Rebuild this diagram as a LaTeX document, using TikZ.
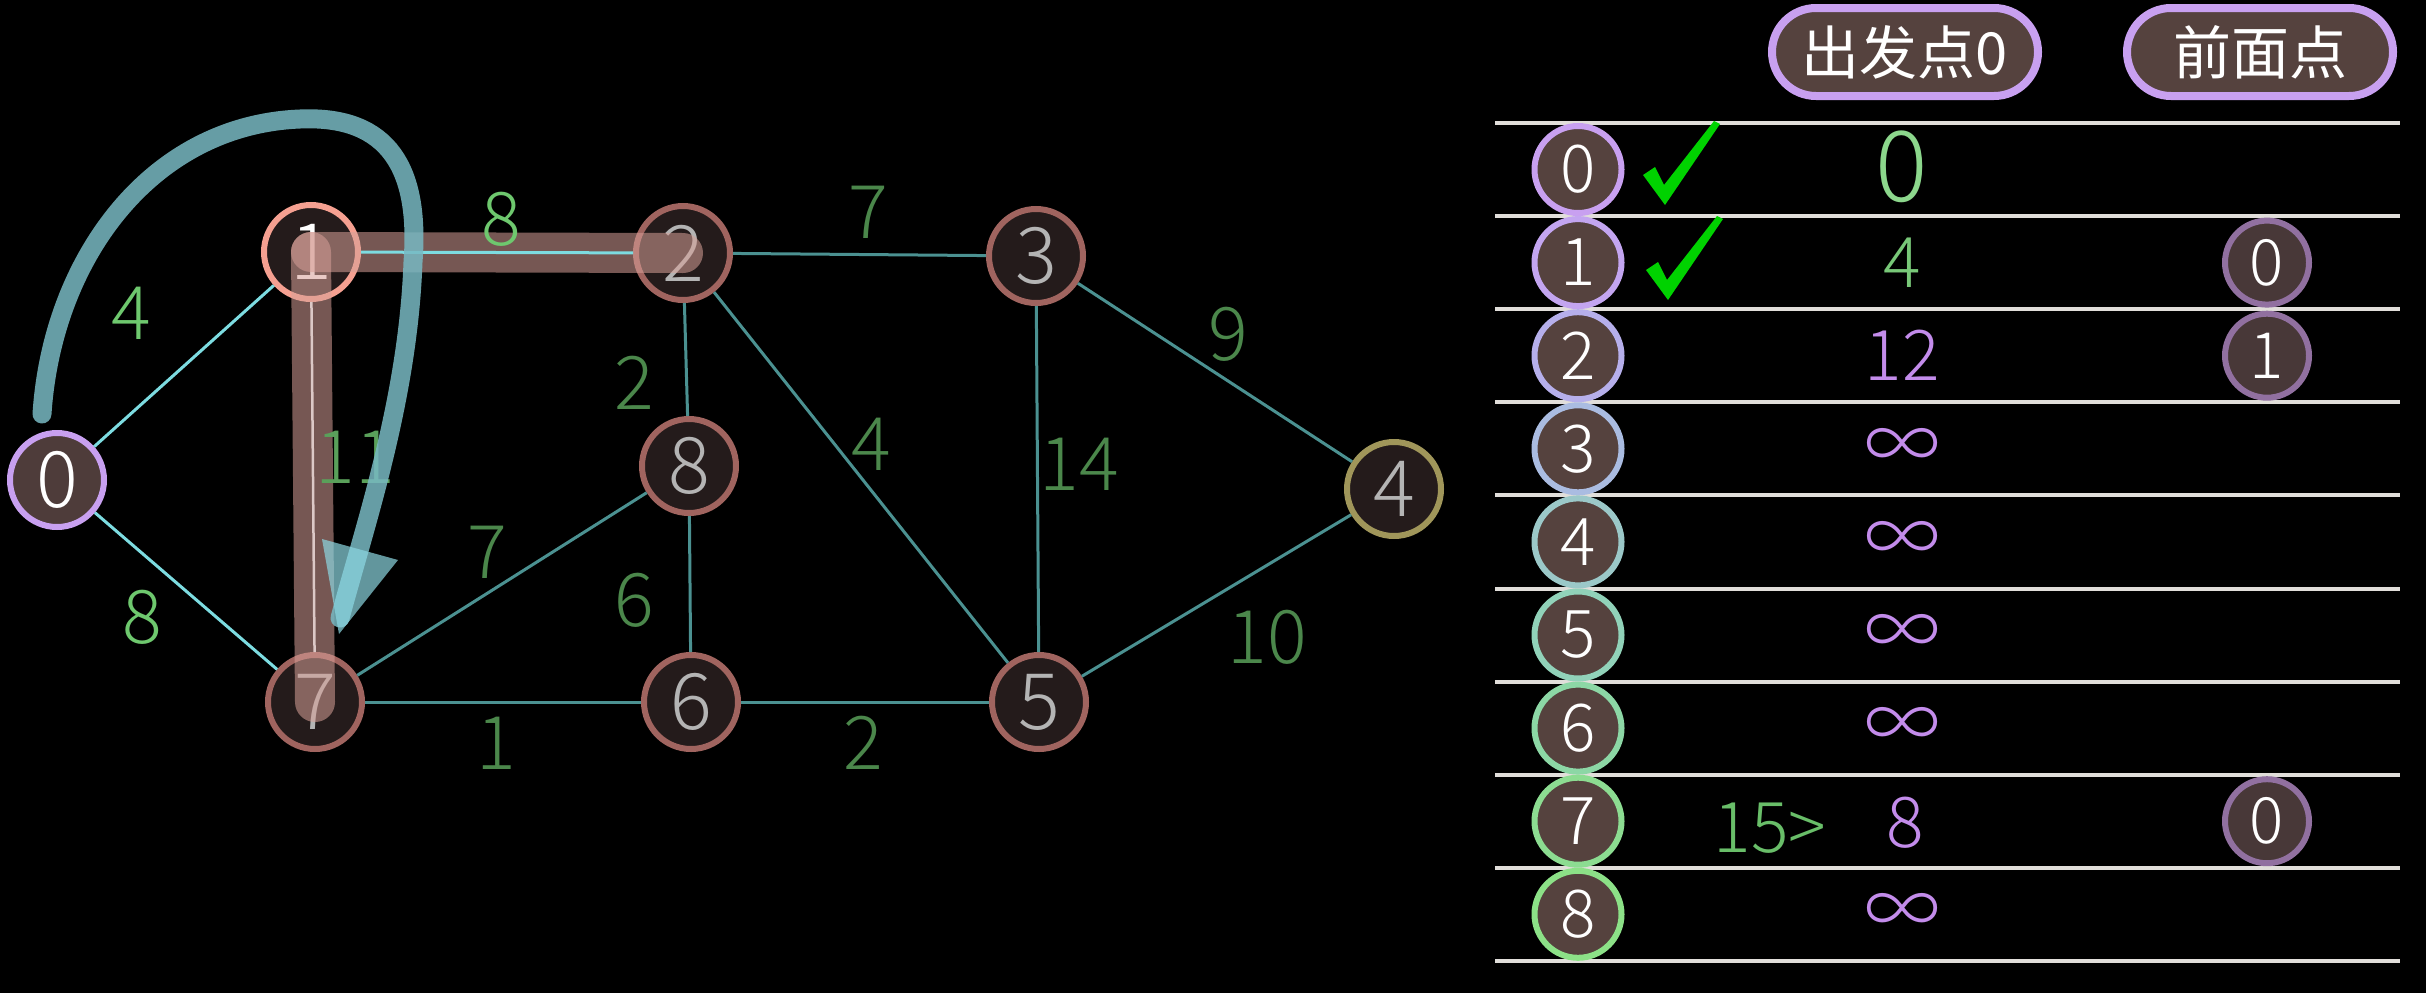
\documentclass[tikz,border=0pt]{standalone}
\usepackage{fontspec}
\setmainfont{Noto Sans CJK SC Light}
\newfontfamily\cjkreg{Noto Sans CJK SC}
\newcommand{\myfs}[1]{\fontsize{#1}{#1}\selectfont}
\definecolor{nodefill}{RGB}{36,27,27}
\definecolor{nodeborder}{RGB}{160,100,95}
\definecolor{nodetext}{RGB}{180,180,180}
\definecolor{edgeteal}{RGB}{75,145,145}
\definecolor{edgecyan}{RGB}{125,220,225}
\definecolor{edgewhite}{RGB}{220,200,198}
\definecolor{lblbright}{RGB}{110,200,110}
\definecolor{lblmid}{RGB}{90,160,90}
\definecolor{lbldark}{RGB}{75,135,75}
\definecolor{bandpink}{RGB}{215,160,152}
\definecolor{arrowc}{RGB}{120,185,195}
\definecolor{arrowhd}{RGB}{140,215,225}
\definecolor{lav}{RGB}{200,160,240}
\definecolor{pillfill}{RGB}{85,66,62}
\definecolor{tabline}{RGB}{225,222,218}
\definecolor{purp}{RGB}{195,140,235}
\definecolor{checkgreen}{RGB}{0,210,0}
\definecolor{olive}{RGB}{160,150,90}
\definecolor{salmon}{RGB}{245,160,145}
\definecolor{zerofill}{RGB}{78,60,58}
\definecolor{predborder}{RGB}{145,112,160}
\definecolor{predfill}{RGB}{72,56,56}
\definecolor{rc0}{RGB}{200,160,240}
\definecolor{rc1}{RGB}{195,165,240}
\definecolor{rc2}{RGB}{182,175,235}
\definecolor{rc3}{RGB}{170,188,225}
\definecolor{rc4}{RGB}{155,200,200}
\definecolor{rc5}{RGB}{145,210,185}
\definecolor{rc6}{RGB}{140,215,165}
\definecolor{rc7}{RGB}{140,220,145}
\definecolor{rc8}{RGB}{140,225,135}
\definecolor{grn15}{RGB}{105,190,105}
\definecolor{dist0}{RGB}{140,215,140}
\definecolor{dist1}{RGB}{120,200,120}
\begin{document}
\begin{tikzpicture}[x=1pt,y=-1pt,
  gnode/.style={circle, minimum size=94, inner sep=0, line width=6, draw=nodeborder, fill=nodefill, text=nodetext, font=\myfs{78}},
  edge/.style={edgeteal, line width=3},
  lbl/.style={inner sep=0, text=lbldark, font=\myfs{74}},
  rnode/.style={circle, minimum size=87, inner sep=0, line width=6, fill=pillfill, text=white, font=\myfs{66}},
  pnode/.style={circle, minimum size=84, inner sep=0, line width=6, draw=predborder, fill=predfill, text=white, font=\myfs{64}},
  pill/.style={rectangle, rounded corners=44, minimum width=266, minimum height=88, inner sep=0, line width=8, draw=lav, fill=pillfill, text=white, font=\cjkreg\myfs{58}},
  val/.style={inner sep=0, font=\myfs{70}},
  infty/.style={inner sep=0, text=purp, font=\myfs{76}},
  band/.style={bandpink, line width=40, opacity=0.55, line cap=round}
]
\fill[black] (0,0) rectangle (2426,993);
\useasboundingbox (0,0) rectangle (2426,993);

% ---------- graph nodes ----------
\node[gnode, draw=lav, fill=zerofill, text=white] (n0) at (57,480) {0};
\node[gnode, draw=salmon, text=white] (n1) at (311,252) {1};
\node[gnode] (n2) at (683,253) {2};
\node[gnode] (n3) at (1036,256) {3};
\node[gnode, draw=olive] (n4) at (1394,489) {4};
\node[gnode] (n5) at (1039,702) {5};
\node[gnode] (n6) at (691,702) {6};
\node[gnode] (n7) at (315,702) {7};
\node[gnode] (n8) at (689,466) {8};

% ---------- edges ----------
\draw[edge, edgecyan] (n0) -- (n1);
\draw[edge, edgecyan] (n0) -- (n7);
\draw[edge] (n2) -- (n3);
\draw[edge] (n2) -- (n8);
\draw[edge] (n2) -- (n5);
\draw[edge] (n3) -- (n5);
\draw[edge] (n3) -- (n4);
\draw[edge] (n4) -- (n5);
\draw[edge] (n7) -- (n8);
\draw[edge] (n8) -- (n6);
\draw[edge] (n7) -- (n6);
\draw[edge] (n6) -- (n5);

% ---------- highlighted path bands ----------
\draw[band] (n1.center) -- (n2.center);
\draw[band] (n1.center) -- (n7.center);
\draw[edge, edgecyan] (n1) -- (n2);
\draw[edgewhite, line width=2.5] (n1) -- (n7);

% ---------- edge labels ----------
\node[lbl, text=lblbright] (l01) at (131,313) {4};
\node[lbl, text=lblbright] (l07) at (142,617) {8};
\node[lbl, text=lblbright] (l12) at (501,219) {8};
\node[lbl, text=lblmid] (l17) at (355,457) {11};
\node[lbl] (l23) at (868,212) {7};
\node[lbl] (l28) at (634,383) {2};
\node[lbl] (l25) at (871,444) {4};
\node[lbl] (l35) at (1079,464) {14};
\node[lbl] (l34) at (1228,334) {9};
\node[lbl] (l45) at (1267,637) {10};
\node[lbl] (l78) at (487,552) {7};
\node[lbl] (l86) at (634,600) {6};
\node[lbl] (l76) at (496,743) {1};
\node[lbl] (l65) at (863,743) {2};

% ---------- curved arrow ----------
\coordinate (as) at (42,414);
\coordinate (ae) at (340,618);
\draw[arrowc, line width=19, line cap=round, opacity=0.85] (as) .. controls (52,260) and (150,125) .. (300,119) .. controls (390,115) and (420,170) .. (413,262) .. controls (408,400) and (365,525) .. (ae);
\fill[arrowhd, opacity=0.7] (322,539) -- (398,560) -- (339,634) -- cycle;

% ---------- table header ----------
\node[pill] (h1) at (1905,52) {出发点0};
\node[pill] (h2) at (2260,52) {前面点};

% ---------- table rules ----------
\foreach \k in {0,...,9} {
  \draw[tabline, line width=4] (1495,{123+93.1*\k}) -- (2400,{123+93.1*\k});
}

% ---------- row vertex circles ----------
\node[rnode, draw=rc0] (r0) at (1578,169.5) {0};
\node[rnode, draw=rc1] (r1) at (1578,262.6) {1};
\node[rnode, draw=rc2] (r2) at (1578,355.7) {2};
\node[rnode, draw=rc3] (r3) at (1578,448.8) {3};
\node[rnode, draw=rc4] (r4) at (1578,541.9) {4};
\node[rnode, draw=rc5] (r5) at (1578,635.0) {5};
\node[rnode, draw=rc6] (r6) at (1578,728.1) {6};
\node[rnode, draw=rc7] (r7) at (1578,821.2) {7};
\node[rnode, draw=rc8] (r8) at (1578,914.3) {8};

% ---------- check marks ----------
\fill[checkgreen] (1643,175) -- (1655,167) -- (1664,185) -- (1714,121) -- (1720,124) -- (1665,205) -- cycle;
\begin{scope}[shift={(3,95)}]
\fill[checkgreen] (1643,175) -- (1655,167) -- (1664,185) -- (1714,121) -- (1720,124) -- (1665,205) -- cycle;
\end{scope}

% ---------- distances ----------
\node[val, text=dist0, font=\myfs{98}] (d0) at (1902,167) {0};
\node[val, text=dist1] (d1) at (1902,262.6) {4};
\node[val, text=purp] (d2) at (1902,355.7) {12};
\node[infty] (d3) at (1902,450) {∞};
\node[infty] (d4) at (1902,543) {∞};
\node[infty] (d5) at (1902,636) {∞};
\node[infty] (d6) at (1902,729) {∞};
\node[val, text=purp] (d7) at (1905,823) {8};
\node[val, text=grn15] (c7) at (1770,828) {15>};
\node[infty] (d8) at (1902,915) {∞};

% ---------- predecessors ----------
\node[pnode] (p1) at (2267,262.6) {0};
\node[pnode] (p2) at (2267,355.7) {1};
\node[pnode] (p7) at (2267,821.2) {0};
\end{tikzpicture}
\end{document}
